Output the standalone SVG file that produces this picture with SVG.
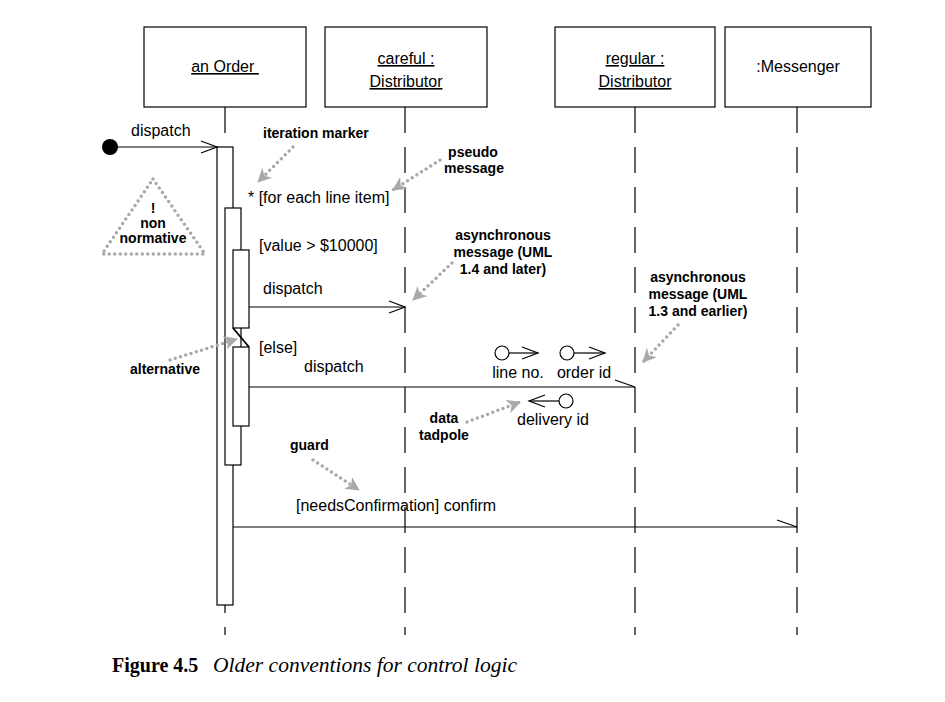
<svg xmlns="http://www.w3.org/2000/svg" width="945" height="702" viewBox="0 0 945 702">
<style>
.box{fill:#fff;stroke:#000;stroke-width:1.2}
.bar{fill:#fff;stroke:#000;stroke-width:1.2}
.life{stroke:#000;stroke-width:1.2;stroke-dasharray:26 14;fill:none}
.msg{stroke:#000;stroke-width:1.2;fill:none}
.t{font-family:"Liberation Sans",Arial,sans-serif;font-size:16px;fill:#000}
.u{text-decoration:underline}
.note{font-family:"Liberation Sans",Arial,sans-serif;font-size:14px;font-weight:bold;fill:#000}
.dot{stroke:#a9a9a9;stroke-width:3.5;stroke-linecap:round;stroke-dasharray:0 5.5;fill:none}
.cap{font-family:"Liberation Serif","Times New Roman",serif;font-size:20px;fill:#000}
</style>
<defs>
<marker id="open" markerUnits="userSpaceOnUse" markerWidth="20" markerHeight="16" refX="17" refY="7" orient="auto">
<path d="M1,1 L17,7 L1,13" fill="none" stroke="#000" stroke-width="1.2"/>
</marker>
<marker id="grey" markerUnits="userSpaceOnUse" markerWidth="16" markerHeight="16" refX="13" refY="7" orient="auto">
<path d="M0,0 L14,7 L0,14 L4,7 z" fill="#a9a9a9"/>
</marker>
</defs>
<rect width="945" height="702" fill="#fff"/>

<g id="node-anOrder">
<rect class="box" x="144" y="27" width="162" height="80"/>
<text class="t u" x="225" y="72" text-anchor="middle" xml:space="preserve">an Order </text>
<line class="life" x1="225" y1="107" x2="225" y2="635"/>
</g>
<g id="node-careful">
<rect class="box" x="325" y="27" width="162" height="80"/>
<text class="t u" x="406" y="64" text-anchor="middle">careful :</text>
<text class="t u" x="406" y="87" text-anchor="middle">Distributor</text>
<line class="life" x1="405" y1="107" x2="405" y2="635"/>
</g>
<g id="node-regular">
<rect class="box" x="555" y="27" width="160" height="80"/>
<text class="t u" x="635" y="64" text-anchor="middle">regular :</text>
<text class="t u" x="635" y="87" text-anchor="middle">Distributor</text>
<line class="life" x1="635" y1="107" x2="635" y2="635"/>
</g>
<g id="node-messenger">
<rect class="box" x="725" y="27" width="146" height="80"/>
<text class="t" x="798" y="72" text-anchor="middle">:Messenger</text>
<line class="life" x1="797" y1="107" x2="797" y2="635"/>
</g>

<g id="activations">
<rect class="bar" x="217" y="147" width="16" height="458"/>
<rect class="bar" x="225" y="208" width="16" height="257"/>
<rect class="bar" x="233" y="250" width="16" height="78"/>
<rect class="bar" x="233" y="347" width="16" height="79"/>
<line x1="233" y1="328" x2="249" y2="347" stroke="#000" stroke-width="1.8"/>
</g>

<g id="connectors">
<circle cx="110" cy="147" r="8" fill="#000"/>
<line class="msg" x1="110" y1="147" x2="217" y2="147" marker-end="url(#open)"/>
<text class="t" x="131" y="136">dispatch</text>

<text class="t" x="248" y="203">* [for each line item]</text>
<text class="t" x="259" y="251">[value &gt; $10000]</text>

<line class="msg" x1="249" y1="307" x2="405" y2="307" marker-end="url(#open)"/>
<text class="t" x="263" y="294">dispatch</text>

<text class="t" x="259" y="353">[else]</text>
<line class="msg" x1="249" y1="387" x2="635" y2="387"/>
<line class="msg" x1="615" y1="380" x2="635" y2="387"/>
<text class="t" x="304" y="372">dispatch</text>

<line class="msg" x1="233" y1="527" x2="797" y2="527"/>
<line class="msg" x1="777" y1="520" x2="797" y2="527"/>
<text class="t" x="296" y="511">[needsConfirmation] confirm</text>
</g>

<g id="tadpoles">
<circle cx="502" cy="353" r="7" fill="#fff" stroke="#000" stroke-width="1.2"/>
<line class="msg" x1="509" y1="353" x2="538" y2="353" marker-end="url(#open)"/>
<text class="t" x="518" y="378" text-anchor="middle">line no.</text>
<circle cx="567" cy="353" r="7" fill="#fff" stroke="#000" stroke-width="1.2"/>
<line class="msg" x1="574" y1="353" x2="605" y2="353" marker-end="url(#open)"/>
<text class="t" x="584" y="378" text-anchor="middle">order id</text>
<circle cx="566" cy="401" r="7" fill="#fff" stroke="#000" stroke-width="1.2"/>
<line class="msg" x1="559" y1="401" x2="529" y2="401" marker-end="url(#open)"/>
<text class="t" x="553" y="425" text-anchor="middle">delivery id</text>
</g>

<g id="annotations">
<text class="note" x="263" y="138">iteration marker</text>
<path class="dot" d="M293,147 L258,182" marker-end="url(#grey)"/>

<path class="dot" d="M153,179 L205,254 L102,254 Z"/>
<text class="note" x="153" y="213" text-anchor="middle">!</text>
<text class="note" x="153" y="228" text-anchor="middle">non</text>
<text class="note" x="153" y="243" text-anchor="middle">normative</text>

<text class="note" x="473" y="157" text-anchor="middle">pseudo</text>
<text class="note" x="474" y="173" text-anchor="middle">message</text>
<path class="dot" d="M440,160 L393,190" marker-end="url(#grey)"/>

<text class="note" x="503" y="240" text-anchor="middle">asynchronous</text>
<text class="note" x="503" y="257" text-anchor="middle">message (UML</text>
<text class="note" x="503" y="274" text-anchor="middle">1.4 and later)</text>
<path class="dot" d="M452,263 L413,300" marker-end="url(#grey)"/>

<text class="note" x="698" y="282" text-anchor="middle">asynchronous</text>
<text class="note" x="698" y="299" text-anchor="middle">message (UML</text>
<text class="note" x="698" y="316" text-anchor="middle">1.3 and earlier)</text>
<path class="dot" d="M678,325 L643,362" marker-end="url(#grey)"/>

<text class="note" x="130" y="374">alternative</text>
<path class="dot" d="M170,360 L237,339" marker-end="url(#grey)"/>

<text class="note" x="444" y="423" text-anchor="middle">data</text>
<text class="note" x="444" y="440" text-anchor="middle">tadpole</text>
<path class="dot" d="M467,422 L520,402" marker-end="url(#grey)"/>

<text class="note" x="290" y="450">guard</text>
<path class="dot" d="M313,460 L359,490" marker-end="url(#grey)"/>
</g>

<g id="caption">
<text class="cap" x="112" y="672" font-weight="bold">Figure 4.5</text>
<text class="cap" x="213" y="672" font-style="italic" font-size="21" textLength="304" lengthAdjust="spacingAndGlyphs">Older conventions for control logic</text>
</g>
</svg>
